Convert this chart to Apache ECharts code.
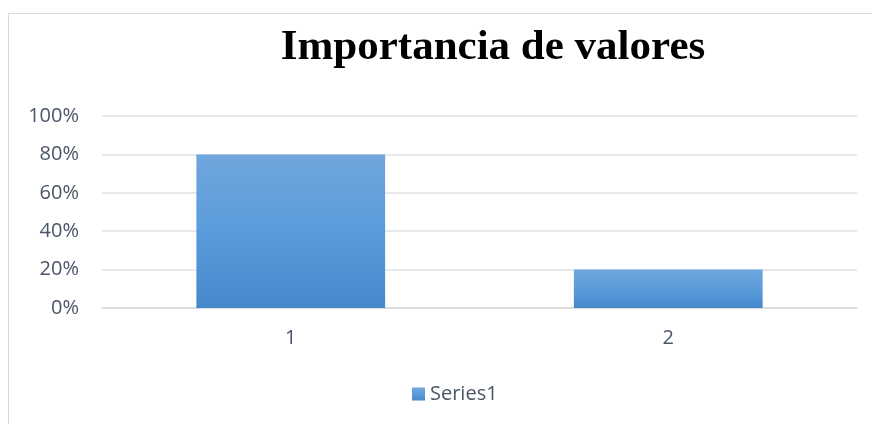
<!DOCTYPE html>
<html>
<head>
<meta charset="utf-8">
<script src="https://cdn.jsdelivr.net/npm/echarts@6/dist/echarts.min.js"></script>
<style>
  html, body { margin: 0; padding: 0; background: #fff; }
  #chart { width: 872px; height: 424px; }
</style>
</head>
<body>
<div id="chart"></div>
<script>
  var categories = ['1', '2'];
  var values = [0.8, 0.2];
  var seriesName = 'Series1';

  var chart = echarts.init(document.getElementById('chart'), null, { renderer: 'canvas' });

  var barColor = new echarts.graphic.LinearGradient(0, 0, 0, 1, [
    { offset: 0, color: '#70a6dd' },
    { offset: 0.5, color: '#5a9cdb' },
    { offset: 1, color: '#4688ca' }
  ]);

  var labelColor = '#4a5568';

  var option = {
    animation: false,
    graphic: [{
      type: 'rect',
      shape: { x: 8.5, y: 13.5, width: 900, height: 500 },
      style: { fill: 'none', stroke: '#d9d9d9', lineWidth: 1 },
      silent: true
    }],
    title: {
      text: 'Importancia de valores',
      left: 488,
      textAlign: 'center',
      top: 21,
      textStyle: {
        fontFamily: 'Liberation Serif',
        fontWeight: 'bold',
        fontSize: 43,
        color: '#000'
      }
    },
    legend: {
      data: [seriesName],
      icon: 'rect',
      left: 407,
      top: 379,
      itemWidth: 13,
      itemHeight: 13,
      itemGap: 6,
      textStyle: { fontFamily: 'Open Sans', fontSize: 20, color: labelColor }
    },
    grid: { left: 102, right: 15, top: 116, bottom: 116 },
    xAxis: {
      type: 'category',
      data: categories,
      axisLine: { lineStyle: { color: '#d9d9d9', width: 1.5 } },
      axisTick: { show: false },
      axisLabel: { margin: 20, fontFamily: 'Open Sans', fontSize: 20, color: labelColor }
    },
    yAxis: {
      type: 'value',
      min: 0,
      max: 1,
      interval: 0.2,
      axisLine: { show: false },
      axisTick: { show: false },
      splitLine: { lineStyle: { color: '#dde0e6', width: 1.5 } },
      axisLabel: {
        margin: 23,
        fontFamily: 'Open Sans',
        fontSize: 20,
        color: labelColor,
        formatter: function (v) { return Math.round(v * 100) + '%'; }
      }
    },
    series: [{
      name: seriesName,
      type: 'bar',
      data: values,
      barWidth: '50%',
      itemStyle: { color: barColor }
    }]
  };

  chart.setOption(option);
</script>
</body>
</html>
